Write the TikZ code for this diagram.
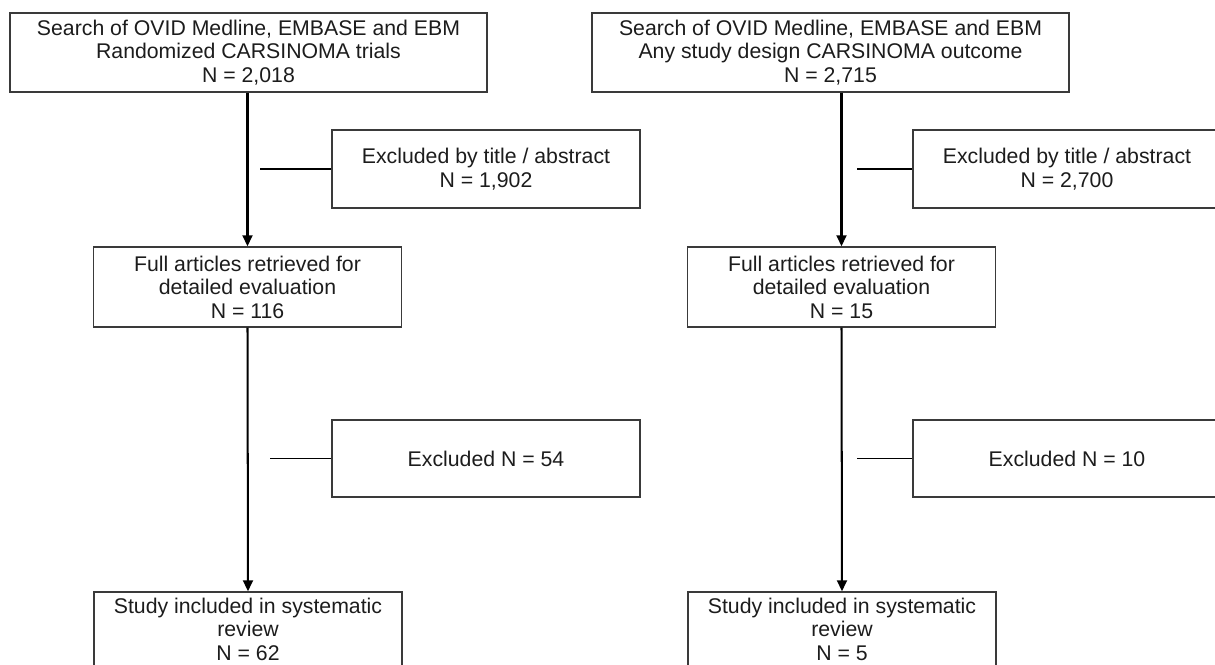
\documentclass[tikz,border=0pt]{standalone}
\usepackage{fontspec}
\setmainfont{Liberation Sans}
\usepackage{tikz}
\usetikzlibrary{arrows.meta}
\definecolor{boxgray}{HTML}{3a3a3a}
\definecolor{textgray}{HTML}{1c1c1c}

\begin{document}
\begin{tikzpicture}[x=0.02cm, y=-0.02cm,
  box/.style={draw=boxgray, line width=0.85pt, inner sep=0pt, align=center,
    text=textgray, font=\fontsize{12.1}{13.4}\selectfont},
  wide/.style={box, minimum width=9.54cm, minimum height=1.58cm},
  mid/.style={box, minimum width=6.16cm, minimum height=1.6cm},
  arr/.style={line width=1.15pt, -{Triangle[width=0.2cm, length=0.22cm]}},
  side/.style={line width=0.85pt}]
\useasboundingbox (0,0) rectangle (1215,665);
\clip (0,0) rectangle (1215,665);

% left column
\node[wide] (search1) at (248.5,52.5) {Search of OVID Medline, EMBASE and EBM\\Randomized CARSINOMA trials\\N = 2,018};
\node[mid, minimum height=1.56cm] (excl1) at (486,169) {Excluded by title / abstract\\N = 1,902};
\node[mid] (full1) at (247.5,287) {Full articles retrieved for\\detailed evaluation\\N = 116};
\node[mid, minimum height=1.54cm] (excl3) at (486,458.5) {Excluded N = 54};
\node[mid, minimum height=1.48cm] (study1) at (248,629) {Study included in systematic\\review\\N = 62};

% right column
\node[wide] (search2) at (830.5,52.5) {Search of OVID Medline, EMBASE and EBM\\Any study design CARSINOMA outcome\\N = 2,715};
\node[mid, minimum height=1.56cm] (excl2) at (1067,169) {Excluded by title / abstract\\N = 2,700};
\node[mid] (full2) at (841.5,287) {Full articles retrieved for\\detailed evaluation\\N = 15};
\node[mid, minimum height=1.54cm] (excl4) at (1067,458.5) {Excluded N = 10};
\node[mid, minimum height=1.48cm] (study2) at (842,629) {Study included in systematic\\review\\N = 5};

% loose ends of the side lines
\coordinate (s1) at (260,169);
\coordinate (s2) at (857,169);
\coordinate (s3) at (270,458.5);
\coordinate (s4) at (857,458.5);

\draw[arr] (search1.south -| full1.north) -- (full1.north);
\draw[arr] (full1.south) -- (study1.north);
\draw[arr] (search2.south -| full2.north) -- (full2.north);
\draw[arr] (full2.south) -- (study2.north);

\draw[side] (s1) -- (excl1.west);
\draw[side] (s3) -- (excl3.west);
\draw[side] (s2) -- (excl2.west);
\draw[side] (s4) -- (excl4.west);
\end{tikzpicture}
\end{document}
